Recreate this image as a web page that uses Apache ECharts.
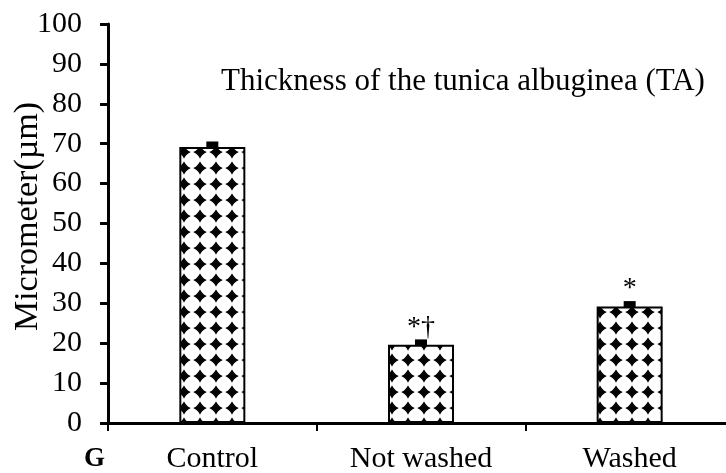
<!DOCTYPE html>
<html>
<head>
<meta charset="utf-8">
<script src="https://cdn.jsdelivr.net/npm/echarts@6/dist/echarts.min.js"></script>
<style>
  html, body { margin: 0; padding: 0; background: #fff; }
  #main { width: 726px; height: 473px; }
</style>
</head>
<body>
<div id="main"></div>
<script>
  var categories = ["Control", "Not washed", "Washed"];
  var thickness = [69.2, 19.6, 29.2];
  var errors = [0.6, 0.6, 0.6];
  var marks = ["", "*\u2020", "*"];
  var yTicks = [0, 10, 20, 30, 40, 50, 60, 70, 80, 90, 100];

  // diamond fill, like the excel pattern
  var tile = document.createElement("canvas");
  tile.width = 16;
  tile.height = 16;
  var tc = tile.getContext("2d");
  tc.fillStyle = "#fff";
  tc.fillRect(0, 0, 16, 16);
  tc.fillStyle = "#000";
  tc.beginPath();
  tc.moveTo(8, 1.2);
  tc.quadraticCurveTo(10.0, 6.0, 14.8, 8);
  tc.quadraticCurveTo(10.0, 10.0, 8, 14.8);
  tc.quadraticCurveTo(6.0, 10.0, 1.2, 8);
  tc.quadraticCurveTo(6.0, 6.0, 8, 1.2);
  tc.fill();

  var font = "Liberation Serif";
  var chart = echarts.init(document.getElementById("main"));
  var option = {
    animation: false,
    backgroundColor: "#fff",
    grid: { left: 108, width: 626, top: 24, bottom: 50, outerBoundsMode: "none", containLabel: false },
    title: {
      text: "Thickness of the tunica albuginea (TA)",
      left: 216,
      top: 61,
      textStyle: { fontFamily: font, fontWeight: "normal", fontSize: 31, color: "#000" }
    },
    graphic: [
      {
        type: "text",
        left: 84,
        top: 446,
        style: { text: "G", font: "bold 27px 'Liberation Serif'", fill: "#000" }
      }
    ],
    xAxis: {
      type: "category",
      data: categories,
      axisLine: { lineStyle: { color: "#000", width: 3 } },
      axisTick: { show: true, length: 8, lineStyle: { color: "#000", width: 2 } },
      axisLabel: { color: "#000", fontFamily: font, fontSize: 30, margin: 21 }
    },
    yAxis: {
      type: "value",
      min: 0,
      max: 100,
      interval: 10,
      name: "Micrometer(\u00b5m)",
      nameLocation: "middle",
      nameGap: 63,
      nameMoveOverlap: false,
      nameTextStyle: { color: "#000", fontFamily: font, fontSize: 34, padding: [0, 0, 0, 14] },
      axisLine: { show: true, lineStyle: { color: "#000", width: 3 } },
      axisTick: { show: true, length: 8, lineStyle: { color: "#000", width: 3 } },
      axisLabel: {
        color: "#000",
        fontFamily: font,
        fontSize: 30,
        margin: 26,
        formatter: function (v) { return yTicks.indexOf(v) >= 0 ? String(v) : ""; }
      },
      splitLine: { show: false }
    },
    series: [
      {
        type: "bar",
        data: thickness,
        barWidth: 66,
        itemStyle: {
          color: { image: tile, repeat: "repeat" },
          borderColor: "#000",
          borderWidth: 2
        }
      },
      {
        type: "custom",
        data: thickness.map(function (v, i) { return [i, v, errors[i]]; }),
        renderItem: function (params, api) {
          var top = api.coord([api.value(0), api.value(1) + api.value(2)]);
          var base = api.coord([api.value(0), api.value(1)]);
          var mark = marks[params.dataIndex];
          var children = [
            {
              type: "rect",
              shape: { x: top[0] - 6, y: top[1] - 3, width: 12, height: base[1] - top[1] + 4 },
              style: { fill: "#000" }
            }
          ];
          if (mark) {
            children.push({
              type: "text",
              x: top[0],
              y: top[1] - 1,
              style: {
                text: mark,
                font: "28px 'Liberation Serif'",
                fill: "#000",
                align: "center",
                verticalAlign: "bottom"
              }
            });
          }
          return { type: "group", children: children };
        },
        z: 5
      }
    ]
  };
  chart.setOption(option);
</script>
</body>
</html>
